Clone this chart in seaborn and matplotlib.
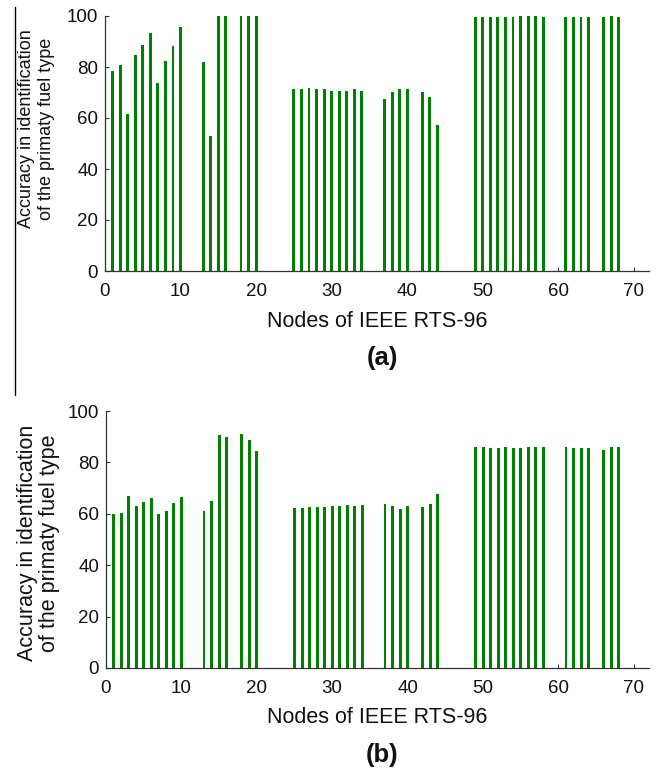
import matplotlib
matplotlib.use('Agg')
import matplotlib.pyplot as plt
import seaborn as sns
from matplotlib.lines import Line2D

# nodes that have a bar (same set in both panels)
nodes = [1, 2, 3, 4, 5, 6, 7, 8, 9, 10,
         13, 14, 15, 16, 18, 19, 20,
         25, 26, 27, 28, 29, 30, 31, 32, 33, 34,
         37, 38, 39, 40, 42, 43, 44,
         49, 50, 51, 52, 53, 54, 55, 56, 57, 58,
         61, 62, 63, 64, 66, 67, 68]

# panel (a) accuracy
acc_a = [78.4, 80.6, 61.7, 84.9, 88.8, 93.4, 73.6, 82.2, 88.3, 95.6,
         81.9, 53.0, 100, 100, 100, 100, 100,
         71.5, 71.5, 71.7, 71.4, 71.4, 70.6, 70.6, 70.6, 71.4, 70.7,
         67.6, 70.3, 71.5, 71.4, 70.3, 68.2, 57.4,
         99.5, 99.5, 99.7, 99.5, 99.5, 99.5, 99.9, 99.9, 99.9, 99.7,
         99.5, 99.5, 99.5, 99.5, 99.5, 99.9, 99.7]

# panel (b) accuracy
acc_b = [60.1, 60.5, 66.9, 62.9, 64.7, 66.2, 60.1, 60.9, 64.3, 66.6,
         60.9, 64.9, 90.8, 89.7, 90.9, 88.7, 84.4,
         62.2, 62.2, 62.7, 62.5, 62.7, 63.2, 63.2, 63.6, 62.9, 63.6,
         64.0, 62.9, 61.8, 62.9, 62.6, 64.0, 67.8,
         85.8, 85.8, 85.6, 85.7, 85.8, 85.7, 85.7, 86.0, 86.0, 86.0,
         85.8, 85.7, 85.6, 85.7, 84.7, 85.8, 85.8]

ylabel = 'Accuracy in identification\nof the primaty fuel type'
xlabel = 'Nodes of IEEE RTS-96'

sns.set_style('white')
plt.rcParams['font.family'] = ['Liberation Sans', 'DejaVu Sans']

W, H = 659, 772
fig = plt.figure(figsize=(W / 100, H / 100), dpi=100)


def px_axes(left, top, right, bottom):
    return fig.add_axes([left / W, 1 - bottom / H, (right - left) / W, (bottom - top) / H])


def draw_panel(ax, vals):
    sns.barplot(x=nodes, y=vals, native_scale=True, color='#008000',
                saturation=1, width=0.38, linewidth=0, ax=ax)
    ax.set_xlim(0, 72)
    ax.set_ylim(0, 100)
    ax.set_xticks(range(0, 71, 10))
    ax.set_yticks(range(0, 101, 20))
    ax.tick_params(direction='in', length=3, width=0.8, color='#333333',
                   labelsize=13.5, labelcolor='#111111', left=True, bottom=True)
    ax.tick_params(axis='x', pad=8.5)
    ax.tick_params(axis='y', pad=5)
    for s in ['top', 'right']:
        ax.spines[s].set_visible(False)
    for s in ['left', 'bottom']:
        ax.spines[s].set_color('#333333')
        ax.spines[s].set_linewidth(0.9)
    ax.set_ylabel('')
    ax.set_xlabel('')


ax1 = px_axes(105, 16, 649, 271)
draw_panel(ax1, acc_a)

ax2 = px_axes(106, 411, 649, 668)
draw_panel(ax2, acc_b)

# y titles (top one is a bit smaller in the original)
fig.text(36.5 / W, 1 - 129 / H, ylabel, rotation=90, ha='center', va='center',
         multialignment='center', fontsize=13, linespacing=1.25, color='#111111')
fig.text(38.5 / W, 1 - 543 / H, ylabel, rotation=90, ha='center', va='center',
         multialignment='center', fontsize=15.5, linespacing=1.05, color='#111111')

# x titles and panel letters
fig.text(377 / W, 1 - 327 / H, xlabel, ha='center', va='baseline', fontsize=15.5, color='#111111')
fig.text(382 / W, 1 - 365 / H, '(a)', ha='center', va='baseline', fontsize=18.5,
         fontweight='bold', color='#111111')
fig.text(377 / W, 1 - 723 / H, xlabel, ha='center', va='baseline', fontsize=15.5, color='#111111')
fig.text(382 / W, 1 - 762 / H, '(b)', ha='center', va='baseline', fontsize=18.5,
         fontweight='bold', color='#111111')

# thin frame line left over at the left edge of the top panel
fig.add_artist(Line2D([15 / W, 15 / W], [1 - 7 / H, 1 - 395 / H], color='black', lw=1))

fig.savefig('out.png', dpi=100)
